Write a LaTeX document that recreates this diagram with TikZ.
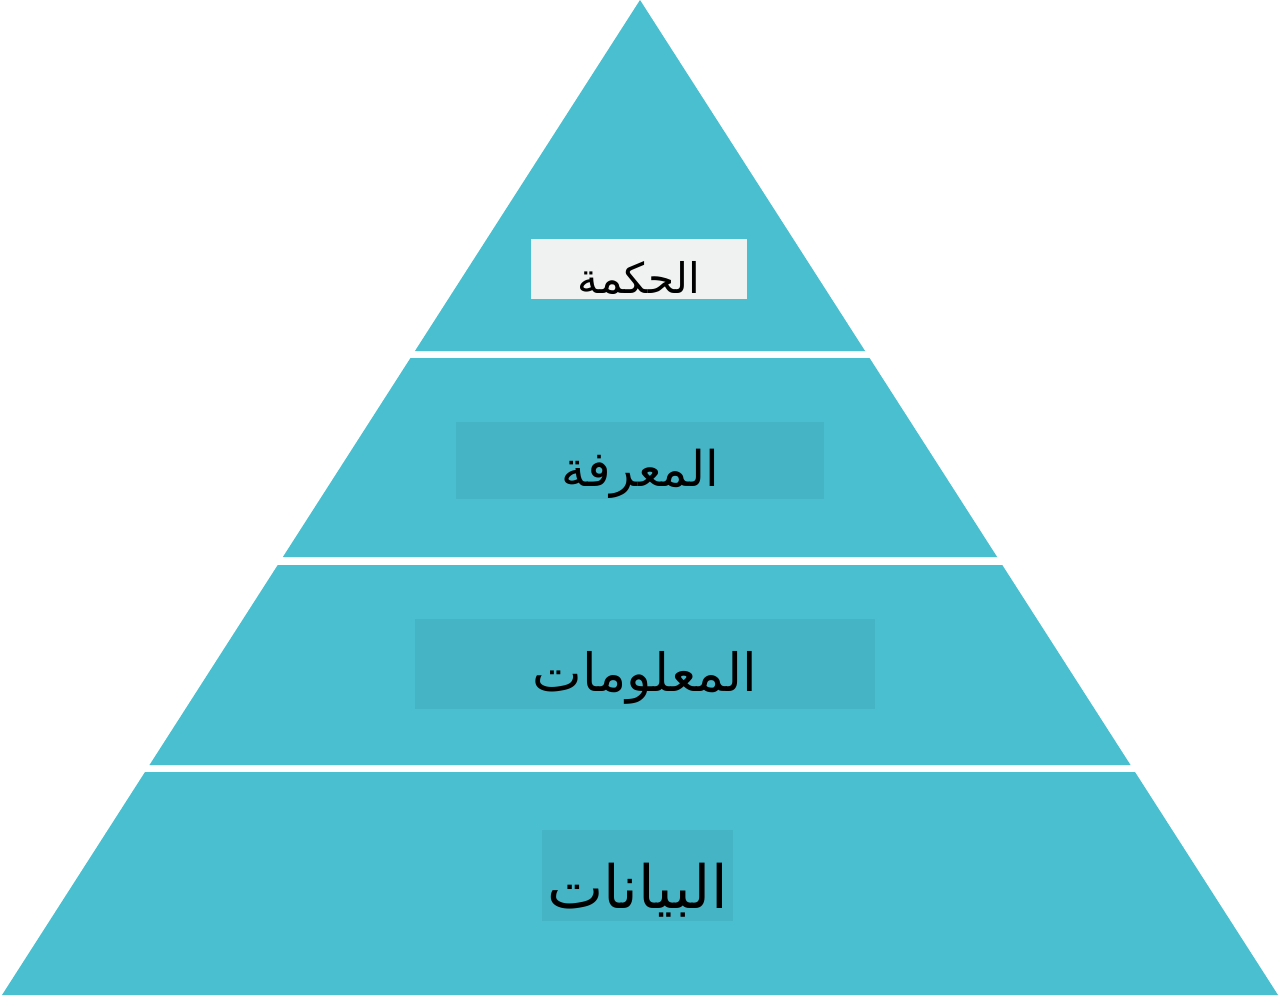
\documentclass[tikz,border=0pt]{standalone}
\usepackage{fontspec}
\newfontfamily\arabicfont[Script=Arabic]{DejaVu Sans}
\TeXXeTstate=1
\definecolor{bandteal}{HTML}{4ABFCF}
\definecolor{boxteal}{HTML}{45B5C6}
\definecolor{boxgray}{HTML}{F0F1F1}
\tikzset{
  band/.style={fill=bandteal},
  labelbox/.style={fill=boxteal, inner sep=0pt},
  labeltext/.style={text=black, inner sep=0pt, font=\arabicfont}
}

\begin{document}
\begin{tikzpicture}[x=0.02cm,y=-0.02cm]
            \useasboundingbox (0,0) rectangle (1280,998);

            % Pyramid bands (top / bottom edge in px)
            \foreach \t/\b in {0/351,358/557,565/765,772/995} {
            \fill[band] ({640-0.6412*\t},\t) -- ({640+0.6412*\t},\t)
                -- ({640+0.6412*\b},\b) -- ({640-0.6412*\b},\b) -- cycle;
            }

            % Label boxes
            \node[labelbox, fill=boxgray, minimum width=4.32cm, minimum height=1.2cm] (wisdombox) at (639,269) {};
            \node[labelbox, minimum width=7.36cm, minimum height=1.54cm] (knowledgebox) at (640,460.5) {};
            \node[labelbox, minimum width=9.2cm, minimum height=1.8cm] (informationbox) at (645,664) {};
            \node[labelbox, minimum width=3.82cm, minimum height=1.82cm] (databox) at (637.5,875.5) {};

            % Labels
            \node[labeltext, font=\arabicfont\fontsize{24}{24}\selectfont] (wisdom) at (639,278) {\beginR الحكمة\endR};
            \node[labeltext, font=\arabicfont\fontsize{28}{28}\selectfont] (knowledge) at (640,474) {\beginR المعرفة\endR};
            \node[labeltext, font=\arabicfont\fontsize{30}{30}\selectfont] (information) at (645,678) {\beginR المعلومات\endR};
            \node[labeltext, font=\arabicfont\fontsize{34}{34}\selectfont] (data) at (637.5,890) {\beginR البيانات\endR};

        \end{tikzpicture}
\end{document}
